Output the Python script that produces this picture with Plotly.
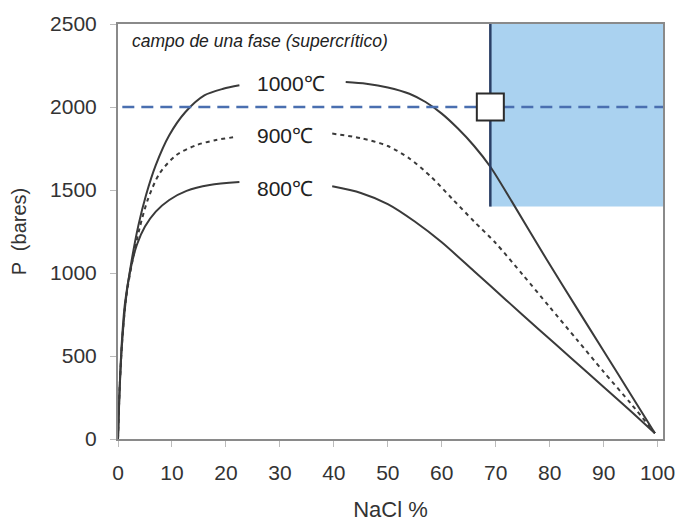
import plotly.graph_objects as go

# NaCl (wt %) vs pressure (bar) solvus curves for three temperatures.
# Each curve is split around its temperature label.
nacl_1000_left = [0, 0.3, 0.8, 1.5, 2.5, 3.8, 5.2, 7.0, 9.5, 12.5, 16.0, 19.5, 22.5]
p_1000_left = [0, 300, 600, 850, 1070, 1290, 1470, 1650, 1830, 1970, 2070, 2110, 2131]
nacl_1000_right = [42.2, 46.0, 50.0, 54.0, 57.0, 60.0, 63.0, 66.0, 69.0, 73.0, 79.5, 85.0, 90.0, 95.0, 99.5]
p_1000_right = [2150, 2140, 2118, 2080, 2030, 1960, 1870, 1765, 1640, 1430, 1078, 790, 530, 270, 35]

nacl_900_left = [0, 0.3, 0.8, 1.5, 2.6, 4.0, 5.5, 7.7, 10.8, 14.5, 18.0, 21.9]
p_900_left = [0, 300, 600, 850, 1060, 1270, 1440, 1600, 1710, 1770, 1800, 1820]
nacl_900_right = [39.7, 45.0, 50.0, 54.0, 58.0, 62.0, 66.0, 70.0, 75.0, 80.0, 85.0, 90.0, 95.0, 99.5]
p_900_right = [1840, 1812, 1765, 1690, 1580, 1445, 1310, 1180, 990, 795, 600, 405, 215, 35]

nacl_800_left = [0, 0.3, 0.7, 1.3, 2.3, 3.5, 5.0, 7.0, 9.5, 12.7, 17.0, 22.5]
p_800_left = [0, 300, 580, 820, 1020, 1170, 1280, 1370, 1440, 1495, 1530, 1548]
nacl_800_right = [39.7, 45.0, 50.0, 55.0, 60.0, 66.0, 72.0, 78.0, 84.0, 90.0, 95.0, 99.5]
p_800_right = [1522, 1482, 1415, 1310, 1185, 1010, 835, 660, 487, 313, 168, 35]

# Label positions (NaCl %, P)
curve_labels = ["1000℃", "900℃", "800℃"]
label_nacl = [32.0, 31.0, 31.0]
label_p = [2143, 1830, 1510]

# Supercritical one-phase field and the reference point
field_nacl = [69.0, 101]
field_p = [1400, 2500]
point_nacl = [69.0]
point_p = [2000]
isobar_p = 2000
isobar_nacl = [0.8, 101]

x_range = [0, 101]
y_range = [0, 2500]
x_ticks = [0, 10, 20, 30, 40, 50, 60, 70, 80, 90, 100]
y_ticks = [0, 500, 1000, 1500, 2000, 2500]

CURVE = "#3a3a3a"
FONT = "Liberation Sans, Arial, sans-serif"

fig = go.Figure()

# Shaded field
fig.add_shape(type="rect", xref="x", yref="y",
              x0=field_nacl[0], x1=field_nacl[1], y0=field_p[0], y1=field_p[1],
              fillcolor="rgb(170,210,240)", line=dict(width=0), layer="below")


def joined(a, b):
    return a + [None] + b


fig.add_trace(go.Scatter(x=joined(nacl_800_left, nacl_800_right),
                         y=joined(p_800_left, p_800_right),
                         mode="lines", line=dict(color=CURVE, width=2, shape="spline", smoothing=0.8),
                         connectgaps=False, showlegend=False, hoverinfo="skip"))
fig.add_trace(go.Scatter(x=joined(nacl_900_left, nacl_900_right),
                         y=joined(p_900_left, p_900_right),
                         mode="lines", line=dict(color=CURVE, width=2, dash="4px,4px", shape="spline", smoothing=0.8),
                         connectgaps=False, showlegend=False, hoverinfo="skip"))
fig.add_trace(go.Scatter(x=joined(nacl_1000_left, nacl_1000_right),
                         y=joined(p_1000_left, p_1000_right),
                         mode="lines", line=dict(color=CURVE, width=2, shape="spline", smoothing=0.8),
                         connectgaps=False, showlegend=False, hoverinfo="skip"))

# 2000 bar isobar
fig.add_trace(go.Scatter(x=isobar_nacl, y=[isobar_p, isobar_p], mode="lines",
                         line=dict(color="#4a6fb0", width=2.5, dash="12px,7px"),
                         showlegend=False, hoverinfo="skip"))

# Left boundary of the field
fig.add_trace(go.Scatter(x=[field_nacl[0], field_nacl[0]], y=field_p, mode="lines",
                         line=dict(color="#2a3f66", width=2.5),
                         showlegend=False, hoverinfo="skip"))

# Reference point
fig.add_trace(go.Scatter(x=point_nacl, y=point_p, mode="markers",
                         marker=dict(symbol="square", size=27, color="white",
                                     line=dict(color="#2b2b2b", width=2)),
                         showlegend=False, hoverinfo="skip"))

for txt, xv, yv in zip(curve_labels, label_nacl, label_p):
    fig.add_annotation(x=xv, y=yv, text=txt, showarrow=False,
                       font=dict(family=FONT, size=21, color="#222"))

fig.add_annotation(xref="paper", yref="y", x=0.022, y=2400, xanchor="left",
                   text="<i>campo de una fase (supercrítico)</i>", showarrow=False,
                   font=dict(family=FONT, size=17.5, color="#222"))

fig.update_xaxes(range=x_range, tickvals=x_ticks, showgrid=False, zeroline=False,
                 showline=True, linecolor="#8a8a8a", linewidth=2, mirror=True,
                 ticks="outside", ticklen=6, tickcolor="#bbbbbb", ticklabelstandoff=8,
                 automargin=False,
                 tickfont=dict(family=FONT, size=21, color="#333"),
                 title=dict(text="NaCl %", font=dict(family=FONT, size=22, color="#333"), standoff=20))
fig.update_yaxes(range=y_range, tickvals=y_ticks, showgrid=False, zeroline=False,
                 showline=True, linecolor="#8a8a8a", linewidth=2, mirror=True,
                 ticks="outside", ticklen=6, tickcolor="#bbbbbb", ticklabelstandoff=9,
                 automargin=False,
                 tickfont=dict(family=FONT, size=21, color="#333"),
                 title=dict(text="P  (bares)", font=dict(family=FONT, size=20, color="#333"), standoff=18))

fig.update_layout(width=683, height=522, margin=dict(l=118, r=20, t=24, b=83),
                  plot_bgcolor="white", paper_bgcolor="white")

fig.write_html("out.html")
